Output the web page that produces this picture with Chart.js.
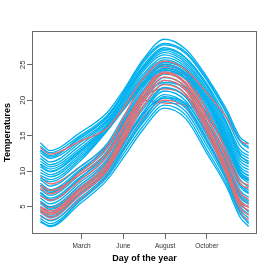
<!DOCTYPE html>
<html><head><meta charset="utf-8">
<script src="https://cdn.jsdelivr.net/npm/chart.js@4"></script>
<style>html,body{margin:0;padding:0;background:#fff}#w{width:274px;height:274px}</style>
</head><body><div id="w"><canvas id="c" width="274" height="274"></canvas></div>
<script>
const DAYS = [1, 18, 70, 117, 147, 180, 218, 255, 292, 327, 350, 365];
const XTICKS = [73, 146, 219, 292];
const XLABELS = ["March", "June", "August", "October"];
const YTICKS = [5, 10, 15, 20, 25];

const BLUE = [
  [14.0,12.9,15.4,18.2,21.5,25.7,28.6,27.2,23.3,18.6,14.8,13.9],
  [13.5,12.6,15.0,17.8,21.0,25.2,27.8,26.6,22.8,18.0,14.2,13.2],
  [13.0,12.2,14.6,17.5,20.8,24.8,27.4,26.0,22.3,17.4,13.6,12.6],
  [12.6,11.8,14.3,17.2,20.5,24.5,27.0,25.6,22.0,16.8,13.0,12.2],
  [12.2,11.3,14.0,17.0,20.3,24.3,26.7,25.3,21.6,16.4,12.6,11.8],
  [11.8,10.9,13.6,16.8,20.0,24.0,26.4,25.0,21.3,16.0,12.2,11.4],
  [11.4,10.6,13.2,16.5,19.7,23.6,26.0,24.7,21.0,15.6,11.8,11.0],
  [11.0,10.3,12.9,16.3,19.5,23.3,25.7,24.4,20.7,15.2,11.4,10.6],
  [10.6,9.9,12.6,16.1,19.2,23.0,25.4,24.2,20.4,14.9,11.0,10.2],
  [10.2,9.5,12.3,16.0,19.0,22.8,25.1,23.9,20.2,14.6,10.6,9.8],
  [9.8,9.2,12.0,15.9,19.0,22.5,24.8,23.7,20.0,14.3,10.2,9.4],
  [9.4,8.8,11.7,15.7,18.8,22.3,24.5,23.4,19.8,14.0,9.9,9.0],
  [9.0,8.5,11.4,15.6,18.7,22.0,24.3,23.1,19.5,13.7,9.5,8.6],
  [12.9,12.0,14.8,17.6,21.2,25.5,28.0,26.8,23.0,18.2,14.4,13.4],
  [10.9,10.0,12.8,16.4,20.3,24.6,27.2,25.9,22.1,16.6,12.3,11.2],
  [3.0,2.2,5.4,8.7,12.0,15.8,18.9,17.4,12.5,7.7,3.5,2.2],
  [3.3,2.6,5.8,9.1,12.5,16.3,19.3,17.9,13.0,8.1,4.0,2.8],
  [3.8,3.0,6.2,9.5,13.0,16.8,19.8,18.4,13.6,8.6,4.5,3.4],
  [4.2,3.4,6.6,9.8,13.4,17.3,20.3,18.9,14.1,9.0,5.0,3.9],
  [4.6,3.8,7.0,10.2,13.9,17.8,20.8,19.4,14.5,9.4,5.4,4.4],
  [5.0,4.2,7.3,10.5,14.3,18.2,21.3,19.9,15.0,9.8,5.9,4.9],
  [5.4,4.6,7.7,10.9,14.7,18.7,21.8,20.4,15.5,10.3,6.3,5.3],
  [5.8,5.0,8.0,11.2,15.1,19.1,22.3,20.9,16.0,10.8,6.8,5.8],
  [6.2,5.4,8.4,11.6,15.5,19.6,22.8,21.4,16.5,11.3,7.3,6.3],
  [6.6,5.8,8.8,12.0,15.9,20.0,23.2,21.9,17.0,11.8,7.8,6.8],
  [7.0,6.2,9.1,12.3,16.3,20.4,23.7,22.4,17.5,12.3,8.3,7.3],
  [7.4,6.6,9.5,12.7,16.7,20.9,24.2,22.9,18.0,12.8,8.8,7.8],
  [7.9,7.0,9.9,13.1,17.1,21.3,24.6,23.4,18.5,13.3,9.3,8.3],
  [8.3,7.4,10.2,13.4,17.4,21.7,25.0,23.8,19.0,13.8,9.8,8.8],
  [8.8,7.9,10.6,13.8,17.8,22.1,25.3,24.2,19.4,14.3,10.3,9.3],
  [5.6,4.8,7.5,10.6,14.0,18.0,20.3,19.6,15.3,10.4,6.5,5.6],
  [4.4,3.6,6.8,10.0,13.8,18.2,21.7,20.5,15.6,10.0,5.6,4.2],
  [6.9,6.0,9.0,12.6,16.8,21.0,24.0,23.0,18.6,12.9,8.1,7.0],
  [2.8,2.3,5.8,9.3,13.0,17.0,20.5,19.2,14.5,8.8,4.2,2.6],
  [8.0,7.2,10.0,13.5,17.0,20.5,22.5,21.7,18.2,13.6,9.8,8.7]
];
const RED = [
  [13.3,12.4,14.2,16.0,19.0,23.0,25.5,24.3,21.0,17.5,14.3,13.8],
  [8.0,7.3,9.5,12.5,16.5,21.0,24.0,22.5,17.5,12.0,8.2,7.6],
  [5.0,4.4,7.6,11.0,15.5,20.5,23.8,22.2,16.8,10.5,5.8,5.0],
  [4.5,3.9,7.0,10.3,14.6,19.6,22.8,21.4,16.0,9.8,5.3,4.5],
  [4.8,4.1,7.3,10.6,15.0,20.0,23.3,21.7,16.3,10.0,5.6,4.9],
  [4.2,3.5,6.6,10.0,14.2,19.0,22.2,20.8,15.4,9.4,4.8,3.8],
  [6.5,5.9,8.7,12.0,16.2,20.9,24.6,23.0,17.7,11.5,7.0,6.0],
  [3.6,3.1,6.0,9.3,13.2,17.5,20.0,19.0,14.4,8.7,4.2,3.1],
  [7.6,6.8,9.8,13.2,17.6,22.4,25.0,23.6,18.6,12.7,8.7,8.0],
  [5.6,4.9,8.0,11.4,15.7,20.3,21.6,20.6,16.8,11.0,6.4,5.4],
  [9.2,8.2,10.6,13.6,16.9,20.0,19.6,19.3,17.5,13.6,9.4,9.0]
];

const BLUE_COLOR = "#00B0EE";
const RED_COLOR = "#F0686A";

function mk(vals, color) {
  return {
    data: DAYS.map((d, i) => ({x: d, y: vals[i]})),
    borderColor: color, borderWidth: 1.3, pointRadius: 0, fill: false,
    cubicInterpolationMode: 'monotone'
  };
}
const datasets = [];
const nr = RED.length;
let ri = 0;
BLUE.forEach((v, i) => {
  datasets.push(mk(v, BLUE_COLOR));
  if (i % 3 === 1 && ri < nr) { datasets.push(mk(RED[ri++], RED_COLOR)); }
});
while (ri < nr) datasets.push(mk(RED[ri++], RED_COLOR));

const boxPlugin = {
  id: 'box',
  afterDatasetsDraw(chart) {
    const a = chart.chartArea, ctx = chart.ctx;
    ctx.save();
    ctx.strokeStyle = '#6a6a6a'; ctx.lineWidth = 1;
    ctx.strokeRect(Math.round(a.left) + 0.5, Math.round(a.top) + 0.5,
      Math.round(a.right - a.left) - 1, Math.round(a.bottom - a.top) - 1);
    ctx.restore();
  }
};

new Chart(document.getElementById('c'), {
  type: 'line',
  data: {datasets},
  plugins: [boxPlugin],
  options: {
    responsive: false, animation: false, devicePixelRatio: 1,
    layout: {padding: {top: 31, right: 17, left: 0, bottom: 0}},
    plugins: {legend: {display: false}, tooltip: {enabled: false}},
    scales: {
      x: {
        type: 'linear', min: -13.6, max: 379.6,
        afterFit(s) { s.height = 40; },
        afterBuildTicks(s) { s.ticks = XTICKS.map(v => ({value: v})); },
        grid: {drawOnChartArea: false, drawTicks: true, tickLength: 5, color: '#6a6a6a'},
        border: {display: false},
        ticks: {
          autoSkip: false, maxRotation: 0, padding: 3, color: '#333',
          font: {family: 'Liberation Sans', size: 6.5},
          callback: (v) => XLABELS[XTICKS.indexOf(v)]
        },
        title: {display: true, text: 'Day of the year', color: '#000',
          font: {family: 'Liberation Sans', size: 9, weight: 'bold'},
          padding: {top: 0, bottom: 10}}
      },
      y: {
        type: 'linear', min: 1.14, max: 29.76,
        afterFit(s) { s.width = 32; },
        afterBuildTicks(s) { s.ticks = YTICKS.map(v => ({value: v})); },
        grid: {drawOnChartArea: false, drawTicks: true, tickLength: 5, color: '#6a6a6a'},
        border: {display: false},
        ticks: {
          autoSkip: false, minRotation: 90, maxRotation: 90, crossAlign: 'center',
          padding: 0, color: '#333',
          font: {family: 'Liberation Sans', size: 8}
        },
        title: {display: true, text: 'Temperatures', color: '#000',
          font: {family: 'Liberation Sans', size: 9, weight: 'bold'},
          padding: {top: 2, bottom: 0}}
      }
    }
  }
});
</script></body></html>
